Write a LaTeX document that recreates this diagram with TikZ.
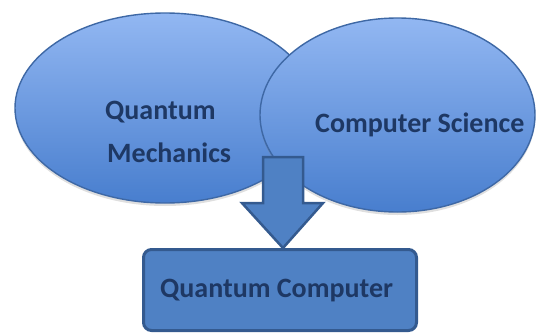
\documentclass[tikz,border=0pt]{standalone}
\usepackage{fontspec}
\setmainfont{Carlito}
\usepackage{tikz}
\usetikzlibrary{shapes.geometric,shadows,positioning}
\definecolor{blobtop}{RGB}{146,183,242}
\definecolor{blobbot}{RGB}{72,126,206}
\definecolor{blobline}{RGB}{62,104,165}
\definecolor{boxfill}{RGB}{79,129,196}
\definecolor{boxline}{RGB}{52,90,143}
\definecolor{inkblue}{RGB}{30,56,100}

\begin{document}
\begin{tikzpicture}[x=1pt,y=1pt,
  blob/.style={ellipse,inner sep=0pt,draw=blobline,line width=1.4pt,
               top color=blobtop,bottom color=blobbot,
               drop shadow={opacity=0.25,shadow xshift=0pt,shadow yshift=-3pt}},
  box/.style={rectangle,rounded corners=8pt,draw=boxline,line width=3pt,fill=boxfill,
              minimum width=273pt,minimum height=81pt},
  lbl/.style={font=\bfseries\fontsize{28}{34}\selectfont,text=inkblue,inner sep=0pt},
  blockarr/.style={draw=boxline,line width=2.5pt,fill=boxfill,line join=miter}]
  \useasboundingbox (0,0) rectangle (540,333);
  \node[blob,minimum width=300pt,minimum height=190pt](qm) at (165,225){};
  \node[blob,minimum width=275pt,minimum height=194pt](cs) at (397.5,218){};
  \node[box](qc) at (280,43){};
  \node[lbl,anchor=base west](qmtop) at (105,214){Quantum};
  \node[lbl,anchor=base west](qmbot) at (107,171){Mechanics};
  \node[lbl,anchor=base west](cstxt) at (315,201){Computer Science};
  \node[lbl,anchor=base west](qctxt) at (160,36){Quantum Computer};
  % block arrow down into the box
  \coordinate (tip) at ([xshift=3pt]qc.north);
  \draw[blockarr](tip)--++(40,45)--++(-20,0)--++(0,46)--++(-40,0)--++(0,-46)--++(-21,0)--cycle;
\end{tikzpicture}
\end{document}
